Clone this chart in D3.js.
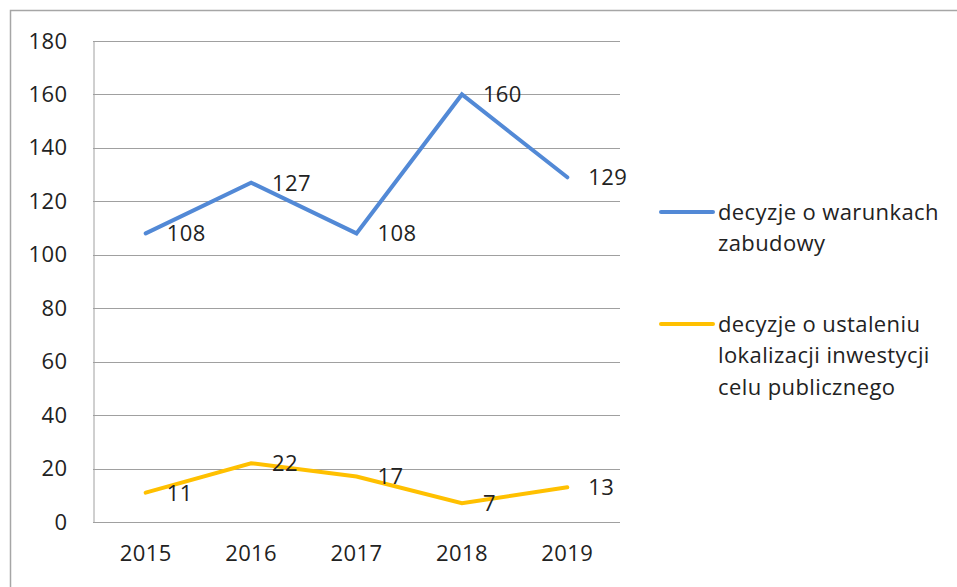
<!DOCTYPE html>
<html><head><meta charset="utf-8">
<script src="https://cdn.jsdelivr.net/npm/d3@7"></script>
<style>html,body{margin:0;padding:0;background:#fff;overflow:hidden}</style>
</head><body>
<svg id="chart" width="957" height="587"></svg>
<script>
const years = ["2015","2016","2017","2018","2019"];
const warunkiZabudowy = [108,127,108,160,129];
const celPubliczny = [11,22,17,7,13];
const yTicks = [0,20,40,60,80,100,120,140,160,180];
const seriesNames = [["decyzje o warunkach","zabudowy"],["decyzje o ustaleniu","lokalizacji inwestycji","celu publicznego"]];
const colors = ["#5289D6","#FFC000"];

const svg = d3.select("#chart");
const font = "'Open Sans', Lato, sans-serif";
const fs = 22;
const ls = "0.4px";
svg.append("rect").attr("x",10.5).attr("y",10.5).attr("width",1000).attr("height",1000)
  .attr("fill","#fff").attr("stroke","#a6a6a6").attr("stroke-width",1.5);

const L=93, R=620, T=41, B=522;
const x = d3.scaleBand().domain(years).range([L,R]);
const y = d3.scaleLinear().domain([0,180]).range([B,T]);

// gridlines
svg.append("g").selectAll("line").data(yTicks.filter(d=>d>0)).join("line")
  .attr("x1",L).attr("x2",R).attr("y1",d=>Math.round(y(d))+0.5).attr("y2",d=>Math.round(y(d))+0.5)
  .attr("stroke","#a0a0a0").attr("stroke-width",1);

const yAxis = svg.append("g").attr("transform",`translate(${L+0.5},0)`)
  .call(d3.axisLeft(y).tickValues(yTicks).tickSize(0).tickPadding(26));
yAxis.select(".domain").attr("stroke","#a0a0a0");
yAxis.selectAll("text").attr("font-family",font).attr("font-size",fs).attr("letter-spacing",ls).attr("fill","#222");

const xAxis = svg.append("g").attr("transform",`translate(0,${B+0.5})`)
  .call(d3.axisBottom(x).tickSize(0).tickPadding(23));
xAxis.select(".domain").attr("stroke","#a0a0a0").attr("d",`M${L},0H${R}`);
xAxis.selectAll("text").attr("font-family",font).attr("font-size",fs).attr("letter-spacing",ls).attr("fill","#222");

const cx = d=>x(d)+x.bandwidth()/2;
const line = d3.line().x(d=>cx(d[0])).y(d=>y(d[1]));
[warunkiZabudowy, celPubliczny].forEach((vals,i)=>{
  const pts = years.map((yr,j)=>[yr,vals[j]]);
  svg.append("path").datum(pts).attr("d",line).attr("fill","none")
    .attr("stroke",colors[i]).attr("stroke-width",4).attr("stroke-linecap","round").attr("stroke-linejoin","miter");
  svg.append("g").selectAll("text").data(pts).join("text")
    .attr("x",d=>cx(d[0])+21).attr("y",d=>y(d[1])).attr("dy","0.36em")
    .attr("font-family",font).attr("font-size",fs).attr("letter-spacing",ls).attr("fill","#222").text(d=>d[1]);
});

// legend
const legY = [212,324];
seriesNames.forEach((lines,i)=>{
  svg.append("line").attr("x1",661).attr("x2",713).attr("y1",legY[i]).attr("y2",legY[i])
    .attr("stroke",colors[i]).attr("stroke-width",4).attr("stroke-linecap","round");
  const t = svg.append("text").attr("x",718).attr("y",legY[i])
    .attr("font-family",font).attr("font-size",fs).attr("letter-spacing",ls).attr("fill","#222");
  lines.forEach((s,k)=>t.append("tspan").attr("x",718).attr("dy",k===0?"0.36em":31.5).text(s));
});
</script>
</body></html>
